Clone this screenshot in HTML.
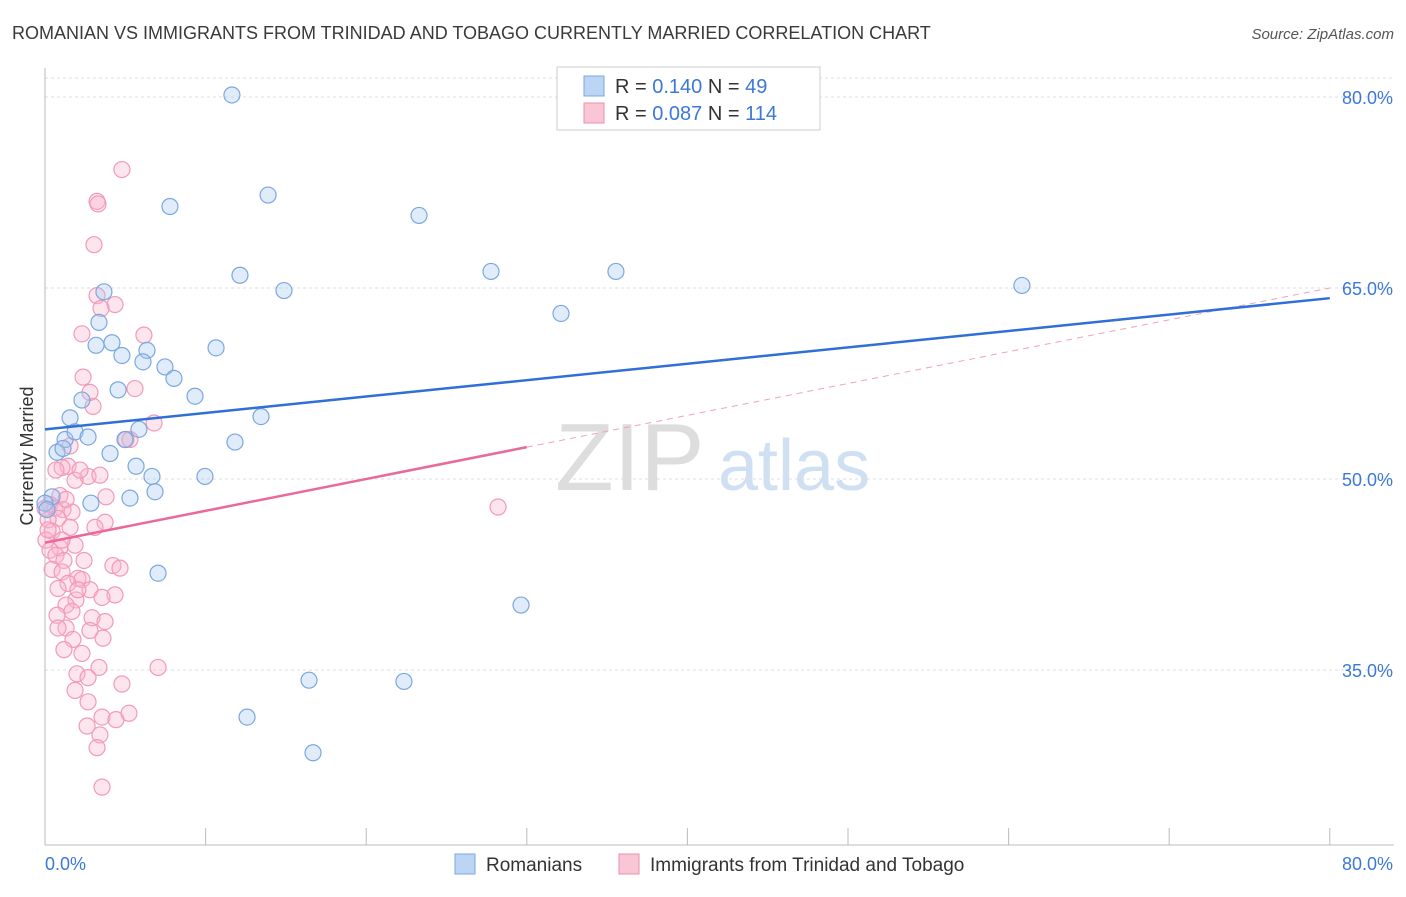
<!DOCTYPE html>
<html><head><meta charset="utf-8"><style>
body{margin:0;background:#fff;font-family:"Liberation Sans",sans-serif;}
svg text{font-family:"Liberation Sans",sans-serif;}
</style></head><body>
<svg id="chart" width="1406" height="892" viewBox="0 0 1406 892">
<text x="12" y="39" font-size="18" fill="#3a3a3a">ROMANIAN VS IMMIGRANTS FROM TRINIDAD AND TOBAGO CURRENTLY MARRIED CORRELATION CHART</text>
<text x="1394" y="39" font-size="15" fill="#555" text-anchor="end" font-style="italic">Source: ZipAtlas.com</text>
<g><text x="555" y="490" font-size="96" fill="#ddd" font-family="Liberation Serif">ZIP</text><text x="718" y="490" font-size="72" fill="#cfe0f3">atlas</text></g>
<g id="grid"></g><g id="axes"></g><g id="marks"></g>
<text transform="translate(33,456) rotate(-90)" font-size="18" fill="#333" text-anchor="middle">Currently Married</text>
<g>
<rect x="557" y="67" width="263" height="63" fill="#fff" stroke="#ccc"/>
<rect x="584" y="76" width="20" height="20" fill="#bcd5f5" stroke="#7aa7e0"/>
<rect x="584" y="103" width="20" height="20" fill="#f9c6d6" stroke="#ee8fae"/>
<text x="615" y="93" font-size="20" fill="#333">R = <tspan fill="#3b78d8">0.140</tspan>   N = <tspan fill="#3b78d8"> 49</tspan></text>
<text x="615" y="120" font-size="20" fill="#333">R = <tspan fill="#3b78d8">0.087</tspan>   N = <tspan fill="#3b78d8">114</tspan></text>
</g>
<g>
<rect x="455" y="854" width="20" height="20" fill="#bcd5f5" stroke="#7aa7e0"/>
<text x="486" y="871" font-size="19" fill="#333">Romanians</text>
<rect x="619" y="854" width="20" height="20" fill="#f9c6d6" stroke="#ee8fae"/>
<text x="650" y="871" font-size="19" fill="#333">Immigrants from Trinidad and Tobago</text>
</g>
</svg>
<script>
const blueX=[11.64,13.89,7.78,23.29,12.14,27.77,35.55,14.88,60.83,3.67,3.36,32.13,3.18,4.17,6.35,4.79,6.10,10.65,7.47,8.03,4.55,9.34,2.30,1.56,13.45,5.85,1.25,1.87,2.68,4.98,11.83,0.75,4.05,5.67,6.66,9.96,6.85,5.29,0.44,2.86,0,7.04,29.64,16.44,22.35,12.58,16.69,0.12,1.12];
const blueY=[80.16,72.3,71.4,70.7,66.0,66.3,66.3,64.8,65.2,64.7,62.3,63.0,60.5,60.7,60.1,59.7,59.2,60.3,58.8,57.9,57.0,56.5,56.2,54.8,54.9,53.9,53.1,53.7,53.3,53.1,52.9,52.1,52.0,51.0,50.2,50.2,49.0,48.5,48.6,48.1,48.1,42.6,40.1,34.2,34.1,31.3,28.5,47.6,52.4];
const pinkX=[4.79,3.24,3.30,3.05,3.24,4.36,3.49,6.16,2.30,2.37,2.99,5.60,2.80,6.79,5.04,1.56,1.43,1.06,2.68,1.87,3.42,3.80,0.93,0.31,0.62,1.12,1.68,0.81,0.19,3.74,1.56,0.44,0.06,1.87,0.93,0.31,0.68,1.18,4.23,4.67,0.44,1.06,2.05,2.30,1.43,0.81,2.80,4.36,3.55,1.93,1.31,1.68,0.75,2.93,3.74,1.31,0.81,2.80,1.74,3.61,1.18,2.30,3.36,7.04,1.99,2.68,4.79,1.87,2.68,3.55,2.62,4.42,5.23,3.42,3.24,3.55,28.21,5.29,0.68,1.31,2.18,3.11,0,0.19,1.06,2.05,2.43];
const pinkY=[74.3,71.8,71.6,68.4,64.4,63.7,63.4,61.3,61.4,58.0,55.7,57.1,56.8,54.4,53.1,52.6,51.0,50.9,50.2,49.9,50.3,48.6,48.7,48.0,47.7,47.6,47.4,46.9,46.8,46.6,46.2,45.9,45.2,44.8,44.6,44.4,44.0,43.6,43.2,43.0,42.9,42.7,42.2,42.1,41.8,41.4,41.3,40.9,40.7,40.5,40.1,39.6,39.3,39.1,38.8,38.3,38.3,38.1,37.4,37.5,36.6,36.3,35.2,35.2,34.7,34.4,33.9,33.4,32.5,31.3,30.6,31.1,31.6,29.9,28.9,25.8,47.8,53.1,50.7,48.4,50.7,46.2,47.7,46.0,45.2,41.3,43.6];
const yTicks=[80,65,50,35];
const yTickLabels=["80.0%","65.0%","50.0%","35.0%"];
const xTicks=[0,10,20,30,40,50,60,70,80,90,100];
const blueTrend=[53.9,64.2];
const pinkTrend=[45.0,65.0];
const pinkSolidEnd=30;
const NS="http://www.w3.org/2000/svg";
const sx=v=>45+v*16.06, sy=v=>97+(80-v)*12.733;
function mk(t,a,p){const e=document.createElementNS(NS,t);for(const k in a)e.setAttribute(k,a[k]);p.appendChild(e);return e;}
const grid=document.getElementById('grid'),axes=document.getElementById('axes'),marks=document.getElementById('marks');
yTicks.forEach((v,i)=>{
 const l=mk('line',{x1:45,x2:1394,y1:sy(v),y2:sy(v),stroke:'#ddd','stroke-dasharray':'3,3'},grid);
 
 
 const t=mk('text',{x:1393,y:sy(v)+7,'font-size':18,fill:'#3b78d8','text-anchor':'end'},axes);t.textContent=yTickLabels[i];
 
 
});
const tg=mk('line',{x1:45,x2:1394,y1:78,y2:78,stroke:'#ddd','stroke-dasharray':'3,3'},grid);


const xa=mk('line',{x1:45,x2:1394,y1:845,y2:845,stroke:'#bbb'},axes);


const ya=mk('line',{x1:45,x2:45,y1:68,y2:845,stroke:'#bbb'},axes);


xTicks.forEach(v=>{if(v>80)return;const l=mk('line',{x1:sx(v),x2:sx(v),y1:828,y2:845,stroke:'#bbb'},axes);
 
 });
const xl0=mk('text',{x:45,y:870,'font-size':18,fill:'#3b78d8'},axes);xl0.textContent='0.0%';


const xl1=mk('text',{x:1393,y:870,'font-size':18,fill:'#3b78d8','text-anchor':'end'},axes);xl1.textContent='80.0%';


pinkX.forEach((x,i)=>{const c=mk('circle',{cx:sx(x),cy:sy(pinkY[i]),r:8,fill:'rgba(248,180,204,0.35)',stroke:'#f19ab8','stroke-width':1.2},marks);
 
 });
blueX.forEach((x,i)=>{const c=mk('circle',{cx:sx(x),cy:sy(blueY[i]),r:8,fill:'rgba(170,200,240,0.35)',stroke:'#7aa7e0','stroke-width':1.2},marks);
 
 });
const pd=mk('line',{x1:sx(pinkSolidEnd),y1:sy(pinkTrend[0]+(pinkTrend[1]-pinkTrend[0])*pinkSolidEnd/80),x2:sx(80),y2:sy(pinkTrend[1]),stroke:'#f0a0bb','stroke-width':1,'stroke-dasharray':'6,5'},marks);


const ps=mk('line',{x1:sx(0),y1:sy(pinkTrend[0]),x2:sx(pinkSolidEnd),y2:sy(pinkTrend[0]+(pinkTrend[1]-pinkTrend[0])*pinkSolidEnd/80),stroke:'#e8699a','stroke-width':2.5},marks);


const bl=mk('line',{x1:sx(0),y1:sy(blueTrend[0]),x2:sx(80),y2:sy(blueTrend[1]),stroke:'#2f6fd6','stroke-width':2.5},marks);


</script>
</body></html>
